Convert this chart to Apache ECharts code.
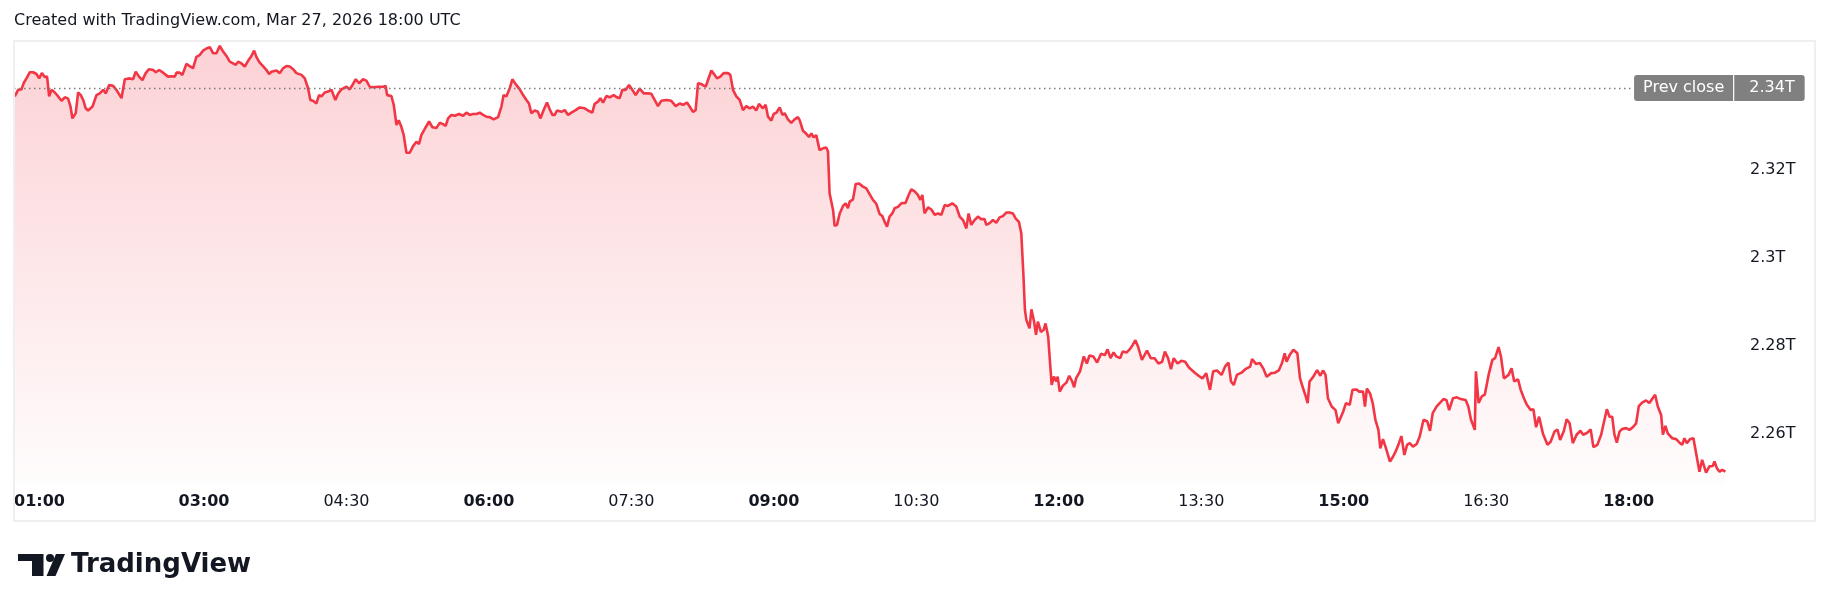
<!DOCTYPE html>
<html>
<head>
<meta charset="utf-8">
<style>
  html, body { margin: 0; padding: 0; background: #fff; }
  #chart { width: 1830px; height: 611px; }
</style>
<script src="https://cdn.jsdelivr.net/npm/echarts@6/dist/echarts.min.js"></script>
</head>
<body>
<div id="chart"></div>
<script>
// minutes since 00:00 UTC and market cap in trillions
const timesEarly = [
  60.5, 62.6, 64.7, 66.2, 67.9, 70.0, 72.1, 74.2, 75.9, 77.6,
  79.4, 80.9, 82.2, 83.7, 85.8, 87.9, 90.0, 92.1, 94.2, 95.7,
  96.9, 99.0, 100.5, 102.2, 103.7, 105.3, 106.8, 109.6, 112.1, 114.2,
  116.3, 118.0, 120.1, 122.6, 124.7, 127.9, 130.0, 133.1, 135.2, 136.9,
  139.0, 141.1, 143.2, 145.3, 147.9, 149.6, 151.7, 154.2, 155.9, 157.3,
  159.4, 161.6, 162.6, 164.7, 166.4, 168.9, 171.0, 173.1, 175.2, 177.3,
  179.4, 181.6, 183.7, 185.8, 187.9, 190.0, 192.1, 194.2, 196.3, 198.4,
  200.1, 201.6, 203.7, 205.8, 207.9, 210.0, 211.7, 213.1, 215.2, 217.3,
  219.5, 221.1, 222.6, 225.8, 227.9, 230.0, 232.1, 234.2, 236.3, 238.4,
  241.6, 243.7, 245.8, 247.2, 248.9, 251.0, 252.7, 254.2, 256.3, 258.4,
  260.5, 261.6, 263.0, 264.7, 266.8, 270.0, 272.1, 273.8, 275.9, 278.0,
  280.5, 282.6, 284.7, 286.8, 290.0, 293.1, 294.8, 295.7, 298.4, 299.9,
  301.6, 303.0, 304.7, 306.2, 307.9, 310.0, 312.1, 314.2, 315.9, 317.3,
  320.1, 322.2, 324.3, 326.8, 328.9, 331.0, 332.7, 334.2, 336.3, 338.4,
  341.1, 343.7, 345.8, 347.9, 350.0, 352.1, 354.2, 356.3, 358.4, 360.5,
  363.0, 365.8, 367.9, 369.3, 371.0, 373.1, 374.8, 376.9, 379.5,
  381.6, 383.7, 385.3, 386.8, 388.9, 391.0, 392.5, 394.6, 396.7, 398.4,
  400.1, 401.6, 403.0, 405.8, 407.9, 410.0, 412.1, 414.8, 417.3, 420.5,
  422.6, 425.3, 426.8, 428.9, 430.4, 432.1, 434.2, 436.3, 438.8, 440.9,
  442.6, 444.3, 446.4, 448.5
];
const valuesEarly = [
  2.3366, 2.3381, 2.3382, 2.3397, 2.3407, 2.3421, 2.3421, 2.3417, 2.3407, 2.3419,
  2.3410, 2.3411, 2.3366, 2.3381, 2.3375, 2.3366, 2.3356, 2.3364, 2.3361, 2.3343,
  2.3316, 2.3328, 2.3375, 2.3369, 2.3358, 2.3339, 2.3334, 2.3343, 2.3369, 2.3373,
  2.3381, 2.3373, 2.3392, 2.3390, 2.3381, 2.3362, 2.3405, 2.3407, 2.3405, 2.3422,
  2.3411, 2.3403, 2.3419, 2.3428, 2.3426, 2.3421, 2.3426, 2.3420, 2.3415, 2.3411,
  2.3412, 2.3411, 2.3420, 2.3420, 2.3415, 2.3440, 2.3435, 2.3430, 2.3456, 2.3460,
  2.3470, 2.3475, 2.3478, 2.3464, 2.3464, 2.3481, 2.3468, 2.3458, 2.3445, 2.3441,
  2.3438, 2.3445, 2.3441, 2.3434, 2.3447, 2.3458, 2.3470, 2.3456, 2.3443, 2.3435,
  2.3426, 2.3417, 2.3422, 2.3425, 2.3419, 2.3430, 2.3435, 2.3434, 2.3428, 2.3419,
  2.3415, 2.3407, 2.3384, 2.3358, 2.3356, 2.3350, 2.3369, 2.3366, 2.3375, 2.3377,
  2.3381, 2.3384, 2.3358, 2.3372, 2.3382, 2.3388, 2.3382, 2.3392, 2.3405, 2.3396,
  2.3405, 2.3402, 2.3388, 2.3387, 2.3388, 2.3388, 2.3390, 2.3369, 2.3367, 2.3347,
  2.3301, 2.3312, 2.3297, 2.3278, 2.3238, 2.3238, 2.3253, 2.3263, 2.3258, 2.3278,
  2.3296, 2.3309, 2.3296, 2.3294, 2.3306, 2.3303, 2.3299, 2.3316, 2.3324, 2.3322,
  2.3326, 2.3322, 2.3329, 2.3324, 2.3326, 2.3326, 2.3329, 2.3324, 2.3320, 2.3319,
  2.3314, 2.3319, 2.3343, 2.3369, 2.3366, 2.3384, 2.3405, 2.3394, 2.3382,
  2.3369, 2.3358, 2.3350, 2.3328, 2.3334, 2.3331, 2.3316, 2.3335, 2.3352, 2.3337,
  2.3324, 2.3324, 2.3334, 2.3331, 2.3335, 2.3324, 2.3329, 2.3335, 2.3341, 2.3339,
  2.3334, 2.3329, 2.3349, 2.3354, 2.3362, 2.3352, 2.3367, 2.3364, 2.3369, 2.3364,
  2.3362, 2.3381, 2.3381, 2.3392
];

const timesMid = [
  450.6, 452.7, 455.2, 457.8, 460.5, 462.6, 464.7, 466.8, 468.9, 472.1,
  475.2, 478.0, 480.5, 482.6, 485.1, 486.8, 488.9, 490.6, 492.1, 494.2,
  496.9, 497.8, 500.5, 502.6, 504.1, 506.2, 508.3, 511.0, 512.5, 514.2,
  516.3, 518.4, 520.5, 522.6, 524.7, 526.8, 528.9, 530.6, 533.1, 534.8,
  536.3, 538.4, 539.9, 541.6, 543.7, 545.4, 546.8, 548.9, 551.0, 553.1,
  555.2, 556.3, 558.4, 560.5, 562.2, 563.7, 565.1, 566.8, 568.9, 571.0,
  573.1, 574.2, 575.2, 577.4, 578.4, 579.9, 581.6, 583.7, 585.3, 586.8,
  587.9, 590.0, 591.7, 593.8, 596.3, 598.4, 600.5, 602.6, 604.7, 606.8,
  608.5, 610.0, 611.5, 613.1, 614.8, 616.3, 618.4, 620.5, 623.2, 624.7,
  626.8, 628.9, 631.0, 632.5, 633.8, 635.2, 637.4, 639.5, 641.6, 643.7,
  645.8, 647.9, 650.0, 652.7, 655.2, 657.4, 659.5, 661.6, 663.0, 664.7,
  666.8, 668.9, 671.0, 673.1, 674.2, 676.3, 678.4, 680.5, 682.6, 684.7,
  686.8, 688.9, 691.0, 692.7, 694.8, 696.3
];
const valuesMid = [
  2.3381, 2.3369, 2.3384, 2.3373, 2.3373, 2.3372, 2.3358, 2.3344, 2.3356, 2.3358,
  2.3356, 2.3344, 2.3350, 2.3347, 2.3352, 2.3343, 2.3331, 2.3335, 2.3396, 2.3394,
  2.3388, 2.3397, 2.3425, 2.3415, 2.3407, 2.3411, 2.3419, 2.3419, 2.3415, 2.3381,
  2.3366, 2.3358, 2.3335, 2.3344, 2.3339, 2.3343, 2.3334, 2.3349, 2.3339, 2.3347,
  2.3320, 2.3311, 2.3326, 2.3329, 2.3341, 2.3324, 2.3328, 2.3314, 2.3306, 2.3314,
  2.3319, 2.3312, 2.3288, 2.3281, 2.3274, 2.3282, 2.3273, 2.3278, 2.3244, 2.3248,
  2.3250, 2.3241, 2.3146, 2.3108, 2.3072, 2.3074, 2.3100, 2.3117, 2.3123, 2.3112,
  2.3127, 2.3132, 2.3167, 2.3168, 2.3161, 2.3157, 2.3144, 2.3131, 2.3122, 2.3099,
  2.3094, 2.3081, 2.3070, 2.3093, 2.3100, 2.3112, 2.3115, 2.3123, 2.3124, 2.3138,
  2.3155, 2.3150, 2.3142, 2.3131, 2.3142, 2.3100, 2.3114, 2.3109, 2.3097, 2.3100,
  2.3097, 2.3119, 2.3117, 2.3123, 2.3116, 2.3093, 2.3085, 2.3066, 2.3100, 2.3074,
  2.3085, 2.3093, 2.3087, 2.3087, 2.3074, 2.3078, 2.3085, 2.3079, 2.3091, 2.3094,
  2.3102, 2.3102, 2.3100, 2.3089, 2.3081, 2.3055
];

const timesLate = [
  697.6, 698.6, 699.5, 701.5, 702.7, 704.4, 705.6, 706.8, 708.7, 710.4,
  711.6, 713.3, 714.5, 715.5, 716.9, 718.4, 719.3, 720.6, 722.5, 724.9,
  726.6, 728.5, 729.7, 730.9, 733.4, 735.8, 737.7, 739.4, 741.8, 744.2,
  746.7, 749.1, 750.8, 752.7, 754.6, 756.3, 758.7, 760.4, 762.9, 764.8,
  766.7, 768.4, 770.1, 772.5, 775.7, 778.1, 780.5, 782.9, 785.3, 787.0,
  789.0, 790.9, 792.6, 795.0, 797.4, 799.8, 802.2, 805.9, 808.3, 810.7,
  813.1, 815.5, 817.5, 819.9, 822.8, 825.2, 827.2, 828.8, 830.5, 832.5,
  835.4, 837.8, 840.9, 842.1, 844.5, 847.0, 849.4, 851.3, 854.2, 856.6,
  859.1, 861.0, 862.7, 863.9, 865.8, 868.2, 870.7, 872.4, 874.0, 876.0,
  877.2, 878.4, 880.8, 883.2, 885.2, 886.9, 888.5, 890.0, 892.4, 894.8,
  896.5, 897.7, 899.7, 901.4, 903.8, 905.5, 907.9, 909.8, 912.2, 913.4,
  914.6, 916.6, 918.3, 920.0, 921.9, 923.1, 924.8, 926.7, 929.2, 931.1,
  932.8, 934.5, 936.4, 938.3, 940.0, 941.7, 943.7, 946.1, 948.0, 950.4,
  952.8, 954.5, 956.2, 958.6, 960.6, 963.0, 964.9, 966.6, 969.0, 971.5,
  973.9, 977.0, 978.7, 980.4, 982.8, 983.5, 985.2, 987.2, 989.1, 991.5,
  993.9, 995.6, 997.8, 999.3, 1001.2, 1004.1, 1006.0, 1007.7, 1010.1, 1011.8,
  1013.8, 1015.7, 1018.1, 1019.8, 1021.5, 1023.4, 1025.8, 1028.7, 1030.7, 1033.1,
  1035.0, 1036.7, 1039.1, 1040.8, 1042.7, 1044.7, 1047.1, 1049.5, 1051.2, 1053.6,
  1056.0, 1057.7, 1060.2,
  1062.6, 1064.7, 1066.2, 1067.9, 1069.6, 1071.0, 1072.5, 1074.2, 1075.9, 1078.4,
  1080.5, 1082.6, 1084.7, 1086.4, 1088.5, 1091.0, 1093.1, 1094.8, 1096.7, 1098.4,
  1100.5, 1101.6, 1103.2, 1104.7, 1107.5, 1110.0, 1112.1, 1113.8, 1115.2, 1116.7,
  1118.8, 1120.9, 1122.6, 1124.7, 1126.4, 1128.9, 1131.0, 1133.1, 1134.2, 1135.7,
  1137.4, 1139.1, 1141.1
];
const valuesLate = [
  2.2964, 2.2881, 2.2858, 2.2839, 2.2882, 2.2854, 2.2824, 2.2854, 2.2831, 2.2835,
  2.2850, 2.2820, 2.2759, 2.2710, 2.2729, 2.2718, 2.2729, 2.2695, 2.2708, 2.2716,
  2.2731, 2.2718, 2.2705, 2.2725, 2.2741, 2.2775, 2.2759, 2.2777, 2.2775, 2.2761,
  2.2781, 2.2778, 2.2791, 2.2771, 2.2784, 2.2775, 2.2771, 2.2786, 2.2784, 2.2791,
  2.2801, 2.2812, 2.2797, 2.2767, 2.2788, 2.2771, 2.2771, 2.2759, 2.2763, 2.2786,
  2.2771, 2.2746, 2.2771, 2.2759, 2.2765, 2.2763, 2.2750, 2.2738, 2.2731, 2.2725,
  2.2737, 2.2699, 2.2741, 2.2743, 2.2733, 2.2753, 2.2761, 2.2718, 2.2710, 2.2733,
  2.2738, 2.2746, 2.2752, 2.2769, 2.2758, 2.2760, 2.2746, 2.2729, 2.2737, 2.2738,
  2.2744, 2.2760, 2.2782, 2.2763, 2.2778, 2.2790, 2.2782, 2.2725, 2.2706, 2.2684,
  2.2669, 2.2718, 2.2729, 2.2744, 2.2731, 2.2743, 2.2733, 2.2680, 2.2661, 2.2653,
  2.2623, 2.2619, 2.2650, 2.2669, 2.2665, 2.2699, 2.2700, 2.2695, 2.2695, 2.2661,
  2.2702, 2.2691, 2.2669, 2.2631, 2.2608, 2.2566, 2.2587, 2.2566, 2.2536, 2.2547,
  2.2559, 2.2574, 2.2594, 2.2551, 2.2574, 2.2578, 2.2570, 2.2576, 2.2593, 2.2631,
  2.2627, 2.2606, 2.2646, 2.2661, 2.2669, 2.2678, 2.2676, 2.2653, 2.2680, 2.2682,
  2.2678, 2.2676, 2.2661, 2.2631, 2.2608, 2.2741, 2.2669, 2.2684, 2.2688, 2.2733,
  2.2767, 2.2771, 2.2796, 2.2775, 2.2725, 2.2733, 2.2748, 2.2718, 2.2723, 2.2699,
  2.2680, 2.2665, 2.2653, 2.2655, 2.2614, 2.2638, 2.2600, 2.2574, 2.2581, 2.2604,
  2.2609, 2.2585, 2.2606, 2.2632, 2.2623, 2.2578, 2.2597, 2.2606, 2.2597, 2.2601,
  2.2609, 2.2569, 2.2574,
  2.2597, 2.2631, 2.2655, 2.2638, 2.2638, 2.2597, 2.2579, 2.2604, 2.2610, 2.2612,
  2.2608, 2.2614, 2.2623, 2.2662, 2.2670, 2.2675, 2.2669, 2.2678, 2.2688, 2.2661,
  2.2642, 2.2597, 2.2617, 2.2600, 2.2589, 2.2587, 2.2579, 2.2574, 2.2589, 2.2578,
  2.2587, 2.2589, 2.2555, 2.2513, 2.2540, 2.2511, 2.2525, 2.2526, 2.2536, 2.2521,
  2.2513, 2.2517, 2.2513
];

const timeTicks = [60, 180, 270, 360, 450, 540, 630, 720, 810, 900, 990, 1080];
const priceTicks = [2.26, 2.28, 2.30, 2.32];
const prevClose = 2.3385;

const font = "DejaVu Sans";
const red = "#f23645";
const ink = "#131722";

const times = timesEarly.concat(timesMid, timesLate);
const values = valuesEarly.concat(valuesMid, valuesLate);
const data = times.map((t, i) => [t, values[i]]);
const lastT = times[times.length - 1];
const lastV = values[values.length - 1];

const xMin = 60, xMax = 1144;
const prevCloseLabelAt = 1083.4; // where the grey label starts

const pad = (n) => String(n).padStart(2, "0");
const fmtT = (v) => parseFloat(v.toFixed(2)) + "T";

const chart = echarts.init(document.getElementById("chart"));

const option = {
    animation: false,
    backgroundColor: "#fff",
    textStyle: { fontFamily: font },
    title: {
        text: "Created with TradingView.com, Mar 27, 2026 18:00 UTC",
        left: 14,
        top: 13,
        padding: 0,
        textStyle: { fontFamily: font, fontSize: 16, fontWeight: "normal", color: ink },
    },
    grid: { left: 14, right: 100, top: 41, bottom: 127, containLabel: false },
    xAxis: {
        type: "value",
        min: xMin,
        max: xMax,
        axisLine: { show: false },
        axisTick: { show: false },
        splitLine: { show: false },
        axisLabel: {
            customValues: timeTicks,
            alignMinLabel: "left",
            margin: 10,
            formatter: (v) => {
                const h = Math.floor(v / 60), m = Math.round(v % 60);
                const s = pad(h) + ":" + pad(m);
                return m === 0 ? "{b|" + s + "}" : "{n|" + s + "}";
            },
            rich: {
                b: { fontFamily: font, fontSize: 16, fontWeight: "bold", color: ink },
                n: { fontFamily: font, fontSize: 16, color: ink },
            },
        },
    },
    yAxis: {
        type: "value",
        position: "right",
        min: 2.2485,
        max: 2.3492,
        axisLine: { show: false },
        axisTick: { show: false },
        splitLine: { show: false },
        axisLabel: {
            customValues: priceTicks,
            margin: 20,
            fontFamily: font,
            fontSize: 16,
            color: ink,
            formatter: fmtT,
        },
    },
    series: [
        {
            type: "line",
            data: data,
            showSymbol: false,
            symbol: "none",
            lineStyle: { color: red, width: 2.6 },
            areaStyle: {
                color: new echarts.graphic.LinearGradient(0, 0, 0, 1, [
                    { offset: 0, color: "rgba(242, 54, 69, 0.32)" },
                    { offset: 1, color: "rgba(242, 54, 69, 0.02)" },
                ]),
            },
            markLine: {
                silent: true,
                symbol: ["none", "none"],
                data: [
                    [
                        {
                            coord: [xMin, prevClose],
                            lineStyle: { color: "#7a7a7a", width: 1.3, type: [1.5, 3.5] },
                            label: {
                                show: true,
                                position: "end",
                                distance: 0,
                                formatter: "{a|Prev close}{d|}{b|" + fmtT(prevClose) + "}",
                                rich: {
                                    a: {
                                        fontFamily: font, fontSize: 16, lineHeight: 16, color: "#fff",
                                        backgroundColor: "#808080", padding: [5, 9, 5, 9],
                                        borderRadius: [3, 0, 0, 3],
                                    },
                                    d: { width: 1, height: 26, backgroundColor: "#fff" },
                                    b: {
                                        fontFamily: font, fontSize: 16, lineHeight: 16, color: "#fff",
                                        backgroundColor: "#808080", padding: [5, 10, 5, 15],
                                        borderRadius: [0, 3, 3, 0],
                                    },
                                },
                            },
                        },
                        { coord: [prevCloseLabelAt, prevClose] },
                    ],
                    [
                        {
                            coord: [lastT, lastV],
                            lineStyle: { opacity: 0 },
                            label: {
                                show: true,
                                position: "end",
                                distance: 4,
                                formatter: "{c|" + fmtT(lastV) + "}",
                                rich: {
                                    c: {
                                        fontFamily: font, fontSize: 16, lineHeight: 16, color: "#fff",
                                        backgroundColor: red, padding: [5, 10, 5, 16], borderRadius: 3,
                                    },
                                },
                            },
                        },
                        { coord: [xMax, lastV] },
                    ],
                ],
            },
        },
    ],
    graphic: [
        {
            type: "rect",
            silent: true,
            z: 100,
            shape: { x: 14, y: 41, width: 1801, height: 480 },
            style: { fill: "none", stroke: "#efefef", lineWidth: 2 },
        },
        {
            type: "group",
            left: 18,
            top: 554,
            children: [
                { type: "polygon", shape: { points: [[0, 0], [25.5, 0], [25.5, 22], [14, 22], [14, 7], [0, 7]] }, style: { fill: ink } },
                { type: "circle", shape: { cx: 32, cy: 4, r: 4 }, style: { fill: ink } },
                { type: "polygon", shape: { points: [[38, 0], [47, 0], [37.5, 22], [28.5, 22]] }, style: { fill: ink } },
            ],
        },
        {
            type: "text",
            left: 71,
            top: 552,
            style: { text: "TradingView", fontFamily: font, fontSize: 26, fontWeight: "bold", fill: ink },
        },
    ],
};

chart.setOption(option);
window.addEventListener("resize", () => chart.resize());
</script>
</body>
</html>
